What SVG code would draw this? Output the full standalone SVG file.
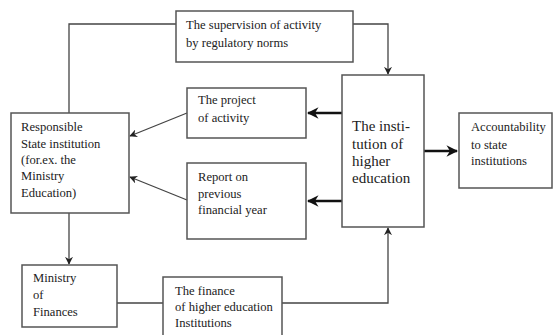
<svg xmlns="http://www.w3.org/2000/svg" width="553" height="335" viewBox="0 0 553 335">
<style>
.box{fill:#fff;stroke:#555;stroke-width:1.5}
.t{font-family:"Liberation Serif","Times New Roman",serif;font-size:12.6px;fill:#222}
.big{font-size:15px}
.ln{fill:none;stroke:#444;stroke-width:1.3}
.th{fill:none;stroke:#111;stroke-width:2.6}
</style>
<defs>
<marker id="a" viewBox="0 0 10 10" refX="9" refY="5" markerWidth="8" markerHeight="8" markerUnits="userSpaceOnUse" orient="auto">
<path d="M0,0 L10,5 L0,10 L3,5 Z" fill="#222"/>
</marker>
<marker id="b" viewBox="0 0 10 10" refX="9" refY="5" markerWidth="4.5" markerHeight="4.5" orient="auto">
<path d="M0,0 L10,5 L0,10 L3,5 Z" fill="#111"/>
</marker>
</defs>
<g id="connectors">
<path class="ln" d="M176,24 H69 V113"/>
<path class="ln" d="M353,24 H388 V74" marker-end="url(#a)"/>
<path class="ln" d="M187,113 L130,136" marker-end="url(#a)"/>
<path class="ln" d="M187,200 L130,177" marker-end="url(#a)"/>
<path class="th" d="M342,113 H308" marker-end="url(#b)"/>
<path class="th" d="M342,201 H308" marker-end="url(#b)"/>
<path class="th" d="M424,151 H457" marker-end="url(#b)"/>
<path class="ln" d="M69,213 V264" marker-end="url(#a)"/>
<path class="ln" d="M117,303 H163"/>
<path class="ln" d="M282,303 H388 V228" marker-end="url(#a)"/>
</g>
<g id="supervision">
<rect class="box" x="176" y="11" width="177" height="51"/>
<text class="t" x="186" y="29">The supervision of activity</text>
<text class="t" x="186" y="47">by regulatory norms</text>
</g>
<g id="responsible">
<rect class="box" x="11" y="113" width="118" height="100"/>
<text class="t" x="21" y="131">Responsible</text>
<text class="t" x="21" y="148">State institution</text>
<text class="t" x="21" y="164">(for.ex. the</text>
<text class="t" x="21" y="180">Ministry</text>
<text class="t" x="21" y="197">Education)</text>
</g>
<g id="project">
<rect class="box" x="187" y="88" width="119" height="50"/>
<text class="t" x="198" y="104">The project</text>
<text class="t" x="198" y="122">of activity</text>
</g>
<g id="report">
<rect class="box" x="187" y="163" width="119" height="76"/>
<text class="t" x="198" y="181">Report on</text>
<text class="t" x="198" y="198">previous</text>
<text class="t" x="198" y="214">financial year</text>
</g>
<g id="institution">
<rect class="box" x="342" y="75" width="82" height="152"/>
<text class="t big" x="352" y="131">The insti-</text>
<text class="t big" x="352" y="149">tution of</text>
<text class="t big" x="352" y="166">higher</text>
<text class="t big" x="352" y="183">education</text>
</g>
<g id="accountability">
<rect class="box" x="459" y="113" width="93" height="75"/>
<text class="t" x="471" y="131">Accountability</text>
<text class="t" x="471" y="149">to state</text>
<text class="t" x="471" y="165">institutions</text>
</g>
<g id="ministry-finances">
<rect class="box" x="22" y="265" width="95" height="62"/>
<text class="t" x="33" y="282">Ministry</text>
<text class="t" x="33" y="299">of</text>
<text class="t" x="33" y="316">Finances</text>
</g>
<g id="finance">
<rect class="box" x="163" y="277" width="119" height="62"/>
<text class="t" x="175" y="295">The finance</text>
<text class="t" x="175" y="311">of higher education</text>
<text class="t" x="175" y="327">Institutions</text>
</g>
</svg>
